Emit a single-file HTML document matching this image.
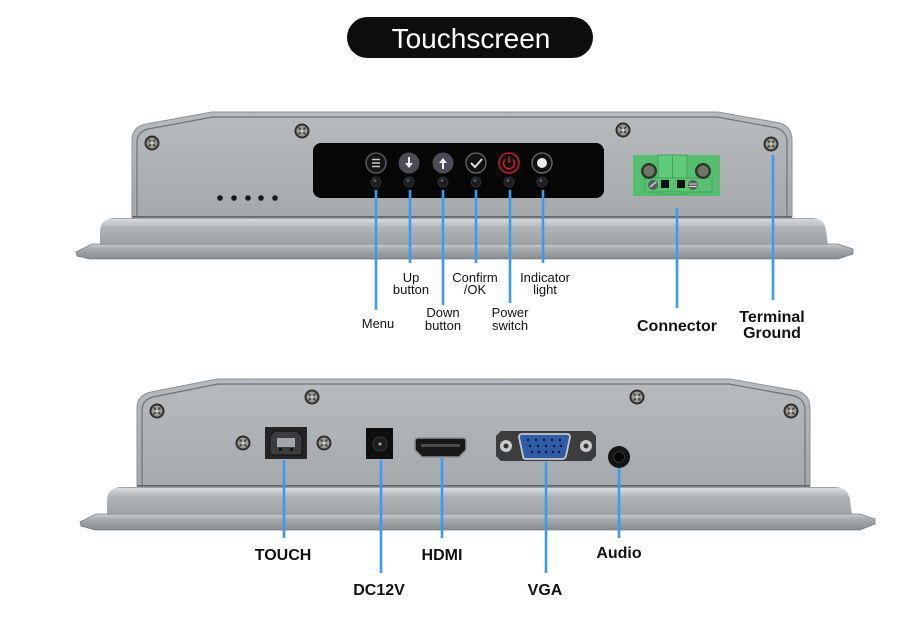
<!DOCTYPE html>
<html><head><meta charset="utf-8"><style>
html,body{margin:0;padding:0;background:#fff;}
svg{display:block;}
text{font-family:"Liberation Sans",sans-serif;}
</style></head><body>
<svg width="922" height="619" viewBox="0 0 922 619" xmlns="http://www.w3.org/2000/svg">
<defs>
<linearGradient id="face" x1="0" y1="0" x2="0" y2="1">
<stop offset="0" stop-color="#b8bbbe"/><stop offset="1" stop-color="#a6a9ac"/></linearGradient>
<linearGradient id="bez" x1="0" y1="0" x2="0" y2="1">
<stop offset="0" stop-color="#7f8386"/><stop offset="0.05" stop-color="#d8dbdd"/><stop offset="0.35" stop-color="#b0b4b7"/><stop offset="1" stop-color="#9da1a4"/></linearGradient>
<linearGradient id="lip" x1="0" y1="0" x2="0" y2="1">
<stop offset="0" stop-color="#d0d3d5"/><stop offset="0.3" stop-color="#a9adb0"/><stop offset="1" stop-color="#888c8f"/></linearGradient>
<g id="screw">
<circle r="7.5" fill="#2c2d2f"/><circle r="5.5" fill="#9c9a92"/>
<path d="M-3.5,-3.5L3.5,3.5M3.5,-3.5L-3.5,3.5" stroke="#4a4a48" stroke-width="1.8"/>
<circle r="1.6" fill="#d5d3cc"/>
</g>
<g id="led"><circle r="5" fill="#1c1d1f" stroke="#2e3033" stroke-width="1"/><circle cx="-1" cy="-1.5" r="1.5" fill="#55575a"/></g>
</defs>

<!-- Title -->
<rect x="347" y="17" width="246" height="41" rx="20.5" fill="#0e0e0e"/>
<text x="471" y="48" font-size="28" fill="#fff" text-anchor="middle">Touchscreen</text>

<!-- ===== TOP DEVICE ===== -->
<path d="M76,252 L92,244 L838,244 L853,249 L853,254 L838,259 L90,259 L77,256 Z" fill="url(#lip)" stroke="#7b7f82" stroke-width="0.8"/>
<path d="M100,245 L100,232 Q100,218 115,218 L812,218 Q824,218 826,230 L828,245 Z" fill="url(#bez)"/>
<path d="M132,217 L132,140 Q132,127 146,124 L212,112 L718,112 L780,123 Q792,127 792,140 L792,217 Z" fill="url(#face)" stroke="#8e9295" stroke-width="1"/>
<path d="M137,217 L137,142 Q137,132 148,129 L213,117 L717,117 L777,128 Q787,132 787,142 L787,217" fill="none" stroke="#6f7376" stroke-width="1.2"/>
<line x1="132" y1="217" x2="792" y2="217" stroke="#4d5154" stroke-width="1.5"/>

<use href="#screw" x="152" y="143"/>
<use href="#screw" x="302" y="131"/>
<use href="#screw" x="623" y="130"/>
<use href="#screw" x="771" y="144"/>

<g fill="#1a1a1a">
<circle cx="220" cy="198" r="2.8"/><circle cx="234" cy="198" r="2.8"/><circle cx="248" cy="198" r="2.8"/><circle cx="261" cy="198" r="2.8"/><circle cx="275" cy="198" r="2.8"/>
</g>

<!-- black panel -->
<rect x="313" y="143" width="291" height="55" rx="8" fill="#060607"/>
<!-- menu -->
<circle cx="376" cy="163" r="10" fill="#151517" stroke="#55575a" stroke-width="1.5"/>
<path d="M372,159.5H380M372,163H380M372,166.5H380" stroke="#c8c8c8" stroke-width="1.5"/>
<!-- down -->
<circle cx="409" cy="163" r="10.5" fill="#4a4b55"/>
<path d="M409,157V166" stroke="#eee" stroke-width="2"/><path d="M405,163L409,168L413,163Z" fill="#eee"/>
<!-- up -->
<circle cx="443" cy="163" r="10.5" fill="#4a4b55"/>
<path d="M443,160V169" stroke="#eee" stroke-width="2"/><path d="M439,163L443,158L447,163Z" fill="#eee"/>
<!-- check -->
<circle cx="476" cy="163" r="10" fill="#111" stroke="#5a5c5f" stroke-width="1.5"/>
<path d="M471,163L475,167L482,159" fill="none" stroke="#ddd" stroke-width="2"/>
<!-- power -->
<circle cx="509" cy="163" r="10" fill="#111" stroke="#a81e28" stroke-width="1.8"/>
<path d="M505,159.5A5.5,5.5 0 1 0 513,159.5" fill="none" stroke="#c4222d" stroke-width="1.6"/>
<path d="M509,156.5V163" stroke="#c4222d" stroke-width="1.6"/>
<!-- indicator -->
<circle cx="542" cy="163" r="10" fill="#111" stroke="#5f6164" stroke-width="1.5"/>
<circle cx="542" cy="163" r="5" fill="#ececec"/>
<use href="#led" x="376" y="182"/><use href="#led" x="409" y="182"/><use href="#led" x="443" y="182"/>
<use href="#led" x="476" y="182"/><use href="#led" x="509" y="182"/><use href="#led" x="542" y="182"/>

<!-- green connector -->
<rect x="633" y="155" width="87" height="41" fill="#55bf6f"/>
<rect x="658" y="155" width="29" height="39" fill="#60cc7a" stroke="#44a25c" stroke-width="1"/>
<line x1="672.5" y1="155" x2="672.5" y2="178" stroke="#44a25c" stroke-width="1"/>
<rect x="645" y="178" width="67" height="14" fill="#58c272" stroke="#44a25c" stroke-width="1"/>
<rect x="661" y="180" width="8" height="8" fill="#111"/>
<rect x="677" y="180" width="8" height="8" fill="#111"/>
<circle cx="649" cy="171" r="8" fill="#2e3a30"/><circle cx="649" cy="171" r="5.5" fill="#707464"/>
<circle cx="703" cy="171" r="8" fill="#2e3a30"/><circle cx="703" cy="171" r="5.5" fill="#707464"/>
<circle cx="653" cy="185" r="5" fill="#5a5e5c"/><path d="M650,187L656,182" stroke="#ddd" stroke-width="1.2"/>
<circle cx="693" cy="185" r="5" fill="#5a5e5c"/><path d="M689,184H697M689,186.5H697" stroke="#ddd" stroke-width="1"/>

<!-- top connector lines -->
<g stroke="#3d9bef" stroke-width="2.6">
<line x1="376" y1="190" x2="376" y2="310"/>
<line x1="410" y1="190" x2="410" y2="263"/>
<line x1="443" y1="190" x2="443" y2="305"/>
<line x1="476" y1="190" x2="476" y2="263"/>
<line x1="510" y1="190" x2="510" y2="303"/>
<line x1="543" y1="190" x2="543" y2="263"/>
<line x1="677" y1="208" x2="677" y2="308"/>
<line x1="773" y1="155" x2="773" y2="300"/>
</g>

<g font-size="13" fill="#111" text-anchor="middle">
<text x="378" y="328">Menu</text>
<text x="411" y="282">Up</text><text x="411" y="294">button</text>
<text x="443" y="317">Down</text><text x="443" y="330">button</text>
<text x="475" y="282">Confirm</text><text x="475" y="294">/OK</text>
<text x="510" y="317">Power</text><text x="510" y="330">switch</text>
<text x="545" y="282">Indicator</text><text x="545" y="294">light</text>
</g>
<g font-size="16" font-weight="bold" fill="#111" text-anchor="middle">
<text x="677" y="331">Connector</text>
<text x="772" y="322">Terminal</text><text x="772" y="338">Ground</text>
</g>

<!-- ===== BOTTOM DEVICE ===== -->
<path d="M80,522 L96,514 L860,514 L875,519 L875,524 L860,530 L95,530 L81,526 Z" fill="url(#lip)" stroke="#7b7f82" stroke-width="0.8"/>
<path d="M107,515 L107,501 Q107,487 122,487 L835,487 Q848,487 850,500 L852,515 Z" fill="url(#bez)"/>
<path d="M137,486 L137,408 Q137,395 151,392 L217,379 L730,379 L798,391 Q810,395 810,408 L810,486 Z" fill="url(#face)" stroke="#8e9295" stroke-width="1"/>
<path d="M142,486 L142,410 Q142,400 153,397 L218,384 L729,384 L795,396 Q805,400 805,410 L805,486" fill="none" stroke="#6f7376" stroke-width="1.2"/>
<line x1="137" y1="486" x2="810" y2="486" stroke="#4d5154" stroke-width="1.5"/>

<use href="#screw" x="157" y="411"/>
<use href="#screw" x="312" y="397"/>
<use href="#screw" x="637" y="397"/>
<use href="#screw" x="791" y="411"/>

<!-- USB -->
<use href="#screw" x="243" y="443"/>
<use href="#screw" x="324" y="443"/>
<rect x="265" y="427" width="42" height="32" fill="#252527"/>
<path d="M270,436 L275,431 L297,431 L302,436 L302,455 L270,455 Z" fill="#3c3c3e" stroke="#111" stroke-width="1"/>
<rect x="277" y="438" width="18" height="9" fill="#a3a7a9"/>
<rect x="279" y="448" width="3" height="3" fill="#111"/><rect x="290" y="448" width="3" height="3" fill="#111"/>

<!-- DC -->
<rect x="366" y="428" width="27" height="31" fill="#0f0f10"/>
<circle cx="380" cy="444" r="7" fill="#1c1c1d" stroke="#3a3a3b" stroke-width="1"/>
<circle cx="380" cy="444" r="1.6" fill="#9a9a9a"/>

<!-- HDMI -->
<path d="M415,441 Q415,438 418,438 L463,438 Q466,438 466,441 L466,450 L459,457 L422,457 L415,450 Z" fill="#181819" stroke="#8a8d90" stroke-width="1.5"/>
<rect x="421" y="444" width="39" height="3" fill="#4a4b4d"/>

<!-- VGA -->
<path d="M496,436 L501,431 L591,431 L596,436 L596,456 L591,461 L501,461 L496,456 Z" fill="#3b3d3f"/>
<circle cx="506" cy="446" r="6" fill="#c9cacb"/><circle cx="506" cy="446" r="2.5" fill="#333"/>
<circle cx="586" cy="446" r="6" fill="#c9cacb"/><circle cx="586" cy="446" r="2.5" fill="#333"/>
<path d="M519,437 Q519,434 522,434 L567,434 Q570,434 570,437 L566,456 Q565,459 562,459 L526,459 Q523,459 523,456 Z" fill="#2e5ca6" stroke="#c5c9cd" stroke-width="1.8"/>
<g fill="#101a30">
<circle cx="528" cy="440" r="1.2"/><circle cx="536" cy="440" r="1.2"/><circle cx="544" cy="440" r="1.2"/><circle cx="552" cy="440" r="1.2"/><circle cx="560" cy="440" r="1.2"/>
<circle cx="530" cy="446" r="1.2"/><circle cx="538" cy="446" r="1.2"/><circle cx="546" cy="446" r="1.2"/><circle cx="554" cy="446" r="1.2"/><circle cx="561" cy="446" r="1.2"/>
<circle cx="532" cy="452" r="1.2"/><circle cx="539" cy="452" r="1.2"/><circle cx="546" cy="452" r="1.2"/><circle cx="553" cy="452" r="1.2"/><circle cx="559" cy="452" r="1.2"/>
</g>

<!-- Audio -->
<circle cx="619" cy="457" r="11" fill="#151515"/>
<circle cx="619" cy="457" r="5.5" fill="#050505" stroke="#333" stroke-width="1"/>

<!-- bottom lines -->
<g stroke="#3d9bef" stroke-width="2.6">
<line x1="284" y1="460" x2="284" y2="538"/>
<line x1="381" y1="460" x2="381" y2="573"/>
<line x1="442" y1="458" x2="442" y2="538"/>
<line x1="546" y1="462" x2="546" y2="573"/>
<line x1="619" y1="468" x2="619" y2="538"/>
</g>
<g font-size="16" font-weight="bold" fill="#111" text-anchor="middle">
<text x="283" y="560">TOUCH</text>
<text x="379" y="595">DC12V</text>
<text x="442" y="560">HDMI</text>
<text x="545" y="595">VGA</text>
<text x="619" y="558">Audio</text>
</g>
</svg>
</body></html>
